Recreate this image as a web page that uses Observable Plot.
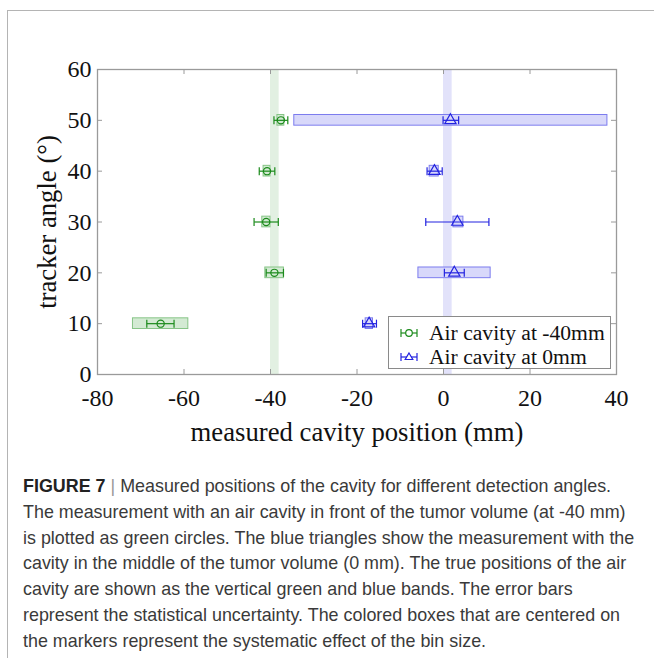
<!DOCTYPE html>
<html>
<head>
<meta charset="utf-8">
<script src="https://cdn.jsdelivr.net/npm/d3@7"></script>
<script src="https://cdn.jsdelivr.net/npm/@observablehq/plot@0.6"></script>
<style>
  html, body { margin: 0; padding: 0; background: #fff; }
  #page { position: relative; width: 654px; height: 658px; overflow: hidden; background: #fff; }
  #frame { position: absolute; left: 7px; top: 10px; right: -2px; bottom: -2px; border-left: 1px solid #b4b4b4; border-top: 1px solid #b4b4b4; }
  #chart { position: absolute; left: 0; top: 0; }
  #legend { position: absolute; left: 388px; top: 316px; width: 223px; height: 53px; background: #fff; border: 1px solid #8a8a8a; box-sizing: border-box; font-family: "Liberation Serif", "Times New Roman", serif; font-size: 21.6px; color: #111; }
  .lg-row { position: absolute; left: 0; height: 24px; width: 100%; }
  .lg-row svg { position: absolute; left: 10px; top: 5px; }
  .lg-row span { position: absolute; left: 40px; top: 0; line-height: 24px; white-space: nowrap; }
  #caption { position: absolute; left: 23px; top: 474px; font-family: "Liberation Sans", Arial, sans-serif; font-size: 17.9px; color: #3a3a3a; line-height: 25.8px; white-space: nowrap; }
  #caption b { color: #222; }
  #caption .bar { color: #999; }
</style>
</head>
<body>
<div id="page">
  <div id="frame"></div>
  <div id="chart"></div>
  <div id="legend"></div>
  <div id="caption"></div>
</div>
<script>
// ---- data ----
const angles = [10, 20, 30, 40, 50];

const greenPos   = [-65.4, -39.1, -41.0, -40.8, -37.6];
const greenErrLo = [-68.6, -41.0, -43.8, -42.6, -39.2];
const greenErrHi = [-62.3, -37.0, -38.2, -39.0, -36.0];
const greenBoxLo = [-71.8, -41.2, -41.9, -41.6, -38.4];
const greenBoxHi = [-59.0, -36.9, -40.0, -40.0, -36.8];

const bluePos   = [-17.2, 2.5, 3.2, -2.1, 1.6];
const blueErrLo = [-18.7, 0.2, -4.1, -3.8, -0.1];
const blueErrHi = [-15.5, 4.8, 10.5, -0.3, 3.5];
const blueBoxLo = [-18.0, -5.8, 2.3, -3.2, -34.5];
const blueBoxHi = [-16.3, 10.9, 4.6, -1.1, 37.9];

const bandLo = [-40, 0];
const bandHi = [-38, 2];
const bandSeries = ["green", "blue"];

const xTicks = [-80, -60, -40, -20, 0, 20, 40];
const yTicks = [0, 10, 20, 30, 40, 50, 60];

const xTitle = "measured cavity position (mm)";
const yTitle = "tracker angle (°)";
const legendLabels = ["Air cavity at -40mm", "Air cavity at 0mm"];

const captionLines = [
  "<b>FIGURE 7</b> <span class='bar'>|</span> Measured positions of the cavity for different detection angles.",
  "The measurement with an air cavity in front of the tumor volume (at -40 mm)",
  "is plotted as green circles. The blue triangles show the measurement with the",
  "cavity in the middle of the tumor volume (0 mm). The true positions of the air",
  "cavity are shown as the vertical green and blue bands. The error bars",
  "represent the statistical uncertainty. The colored boxes that are centered on",
  "the markers represent the systematic effect of the bin size."
];

// ---- styles ----
const C = {
  green: "#1b8a1b", greenFill: "#d3ead3", greenEdge: "#86c486", greenBand: "#e2f0e2",
  blue: "#2323e0", blueFill: "#d8d8fa", blueEdge: "#7c7cee", blueBand: "#e2e2fa",
  frame: "#9a9a9a"
};
const boxHalf = 1.05;

function series(pos, lo, hi, blo, bhi) {
  return angles.map((a, i) => ({angle: a, pos: pos[i], lo: lo[i], hi: hi[i], blo: blo[i], bhi: bhi[i]}));
}
const green = series(greenPos, greenErrLo, greenErrHi, greenBoxLo, greenBoxHi);
const blue = series(bluePos, blueErrLo, blueErrHi, blueBoxLo, blueBoxHi);
const bands = bandLo.map((lo, i) => ({lo, hi: bandHi[i], s: bandSeries[i]}));

const capSymbol = {
  draw(ctx, size) {
    const r = Math.sqrt(size / Math.PI);
    ctx.moveTo(0, -r); ctx.lineTo(0, r);
  }
};

const W = 654, H = 460, mL = 97, mR = 38, mT = 69, mB = 86;
const plotH = H - mT - mB;

function seriesMarks(data, col, fill, edge, symbol, r) {
  return [
    Plot.rect(data, {x1: "blo", x2: "bhi", y1: d => d.angle - boxHalf, y2: d => d.angle + boxHalf, fill, stroke: edge, strokeWidth: 1}),
    Plot.link(data, {x1: "lo", x2: "hi", y1: "angle", y2: "angle", stroke: col, strokeWidth: 1.2}),
    Plot.dot(data, {x: "lo", y: "angle", symbol: capSymbol, r: 4, stroke: col, strokeWidth: 1.2, fill: "none"}),
    Plot.dot(data, {x: "hi", y: "angle", symbol: capSymbol, r: 4, stroke: col, strokeWidth: 1.2, fill: "none"}),
    Plot.dot(data, {x: "pos", y: "angle", symbol, r, stroke: col, strokeWidth: 1.2, fill: "none"})
  ];
}

const chart = Plot.plot({
  width: W, height: H,
  marginLeft: mL, marginRight: mR, marginTop: mT, marginBottom: mB,
  x: {domain: [-80, 40]},
  y: {domain: [0, 60]},
  style: {fontFamily: "'Liberation Serif', 'Times New Roman', serif", background: "transparent", color: "#111"},
  marks: [
    Plot.rectX(bands, {x1: "lo", x2: "hi", fill: d => d.s === "green" ? C.greenBand : C.blueBand}),
    ...seriesMarks(green, C.green, C.greenFill, C.greenEdge, "circle", 3.6),
    ...seriesMarks(blue, C.blue, C.blueFill, C.blueEdge, "triangle", 4.2),
    // inward ticks
    Plot.tickX(xTicks, {x: d => d, insetTop: plotH - 5, stroke: C.frame}),
    Plot.tickX(xTicks, {x: d => d, insetBottom: plotH - 5, stroke: C.frame}),
    Plot.tickY(yTicks, {y: d => d, insetRight: (W - mL - mR) - 5, stroke: C.frame}),
    Plot.tickY(yTicks, {y: d => d, insetLeft: (W - mL - mR) - 5, stroke: C.frame}),
    Plot.frame({stroke: C.frame, strokeWidth: 1.3}),
    Plot.axisX({ticks: xTicks, tickSize: 0, tickPadding: 14, tickFormat: d => String(d), fontSize: 24, label: null, fill: "#111"}),
    Plot.axisY({ticks: yTicks, tickSize: 0, tickPadding: 6, tickFormat: d => String(d), fontSize: 24, label: null, fill: "#111"}),
    Plot.text([xTitle], {text: d => d, frameAnchor: "bottom", dy: 66, fontSize: 26.7, fill: "#111"}),
    Plot.text([yTitle], {text: d => d, frameAnchor: "left", textAnchor: "middle", dx: -50, rotate: -90, fontSize: 26.7, fill: "#111"})
  ]
});
document.getElementById("chart").appendChild(chart);

// legend
const legend = document.getElementById("legend");
const icons = [
  `<svg width="22" height="14" viewBox="0 0 22 14"><line x1="2" y1="7" x2="18" y2="7" stroke="${C.green}" stroke-width="1.2"/><line x1="2" y1="3" x2="2" y2="11" stroke="${C.green}" stroke-width="1.2"/><line x1="18" y1="3" x2="18" y2="11" stroke="${C.green}" stroke-width="1.2"/><circle cx="10" cy="7" r="3.3" fill="white" stroke="${C.green}" stroke-width="1.2"/></svg>`,
  `<svg width="22" height="14" viewBox="0 0 22 14"><line x1="2" y1="7" x2="18" y2="7" stroke="${C.blue}" stroke-width="1.2"/><line x1="2" y1="3" x2="2" y2="11" stroke="${C.blue}" stroke-width="1.2"/><line x1="18" y1="3" x2="18" y2="11" stroke="${C.blue}" stroke-width="1.2"/><path d="M10,3 L13.8,9.5 L6.2,9.5 Z" fill="white" stroke="${C.blue}" stroke-width="1.2"/></svg>`
];
legendLabels.forEach((lab, i) => {
  const row = document.createElement("div");
  row.className = "lg-row";
  row.style.top = (4 + i * 23.5) + "px";
  row.innerHTML = icons[i] + `<span>${lab}</span>`;
  legend.appendChild(row);
});

// caption
document.getElementById("caption").innerHTML = captionLines.map(l => `<div>${l}</div>`).join("");
</script>
</body>
</html>
